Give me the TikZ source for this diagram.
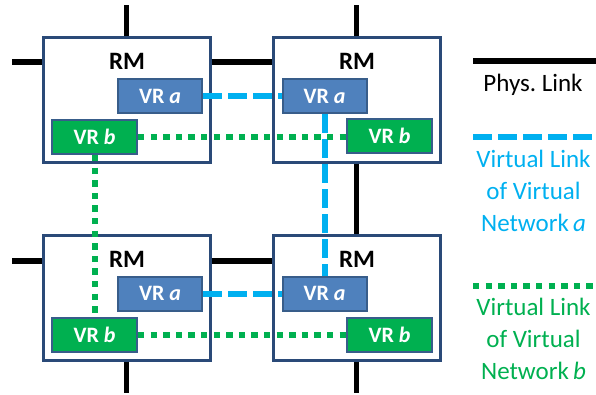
\documentclass[tikz,border=0pt]{standalone}
\usepackage{fontspec}
\setmainfont{Carlito}
\definecolor{rmborder}{HTML}{2A4A78}
\definecolor{vrafill}{HTML}{4F81BD}
\definecolor{vrborder}{HTML}{385D8A}
\definecolor{vrbfill}{HTML}{00B050}
\definecolor{vlinka}{HTML}{00B0F0}
\definecolor{vlinkb}{HTML}{00B050}
\begin{document}
\begin{tikzpicture}[x=1pt,y=-1pt,
  rmbox/.style={draw=rmborder, line width=3pt, fill=white, minimum width=167pt, minimum height=125pt, inner sep=0pt},
  rmlabel/.style={font=\bfseries\fontsize{25}{28}\selectfont, text=black, inner sep=0pt},
  vrabox/.style={draw=vrborder, line width=2pt, fill=vrafill, minimum width=84pt, minimum height=34pt, inner sep=0pt, text=white, font=\bfseries\fontsize{22}{24}\selectfont},
  vrbbox/.style={draw=vrborder, line width=2pt, fill=vrbfill, minimum width=85pt, minimum height=34pt, inner sep=0pt, text=white, font=\bfseries\fontsize{22}{24}\selectfont},
  phys/.style={draw=black, line width=5.5pt},
  vla/.style={draw=vlinka, line width=6pt, dash pattern=on 19pt off 6pt},
  vlb/.style={draw=vlinkb, line width=6pt, dash pattern=on 6.3pt off 6.3pt},
  legtext/.style={align=center, font=\fontsize{25}{32}\selectfont, inner sep=0pt}
]
\useasboundingbox (0,0) rectangle (596,394);
% RM boxes
\node[rmbox] (rmTL) at (126.5,99.5) {};
\node[rmbox] (rmTR) at (356.5,99.5) {};
\node[rmbox] (rmBL) at (126.5,297.5) {};
\node[rmbox] (rmBR) at (356.5,297.5) {};
% free ends of physical links
\coordinate (ytop) at (0,62);
\coordinate (ybot) at (0,261);
\coordinate (pTLup) at (126.5,5);
\coordinate (pTLleft) at (12,62);
\coordinate (pTRup) at (356.5,5);
\coordinate (pBLleft) at (12,261);
\coordinate (pBLdown) at (126.5,393);
\coordinate (pBRdown) at (356.5,393);
% physical links
\draw[phys] (rmTL.north) -- (pTLup);
\draw[phys] (rmTL.west |- ytop) -- (pTLleft);
\draw[phys] (rmTL.east |- ytop) -- (rmTR.west |- ytop);
\draw[phys] (rmTR.north) -- (pTRup);
\draw[phys] (rmTR.south) -- (rmBR.north);
\draw[phys] (rmBL.west |- ybot) -- (pBLleft);
\draw[phys] (rmBL.east |- ybot) -- (rmBR.west |- ybot);
\draw[phys] (rmBL.south) -- (pBLdown);
\draw[phys] (rmBR.south) -- (pBRdown);
% RM labels
\node[rmlabel] (lTL) at (127,61) {RM};
\node[rmlabel] (lTR) at (357,61) {RM};
\node[rmlabel] (lBL) at (127,259) {RM};
\node[rmlabel] (lBR) at (357,259) {RM};
% VR nodes
\node[vrabox] (vraTL) at (160,96) {VR \textit{a}};
\node[vrabox] (vraTR) at (324.5,96) {VR \textit{a}};
\node[vrabox] (vraBL) at (160,293.5) {VR \textit{a}};
\node[vrabox] (vraBR) at (324.5,293.5) {VR \textit{a}};
\node[vrbbox] (vrbTL) at (94.5,137) {VR \textit{b}};
\node[vrbbox] (vrbTR) at (389.5,136) {VR \textit{b}};
\node[vrbbox] (vrbBL) at (94.5,334.5) {VR \textit{b}};
\node[vrbbox] (vrbBR) at (389.5,334.5) {VR \textit{b}};
% virtual links
\draw[vla] (vraTL.east) -- (vraTR.west);
\draw[vla] (vraTR.south) -- (vraBR.north);
\draw[vla] (vraBL.east) -- (vraBR.west);
\draw[vlb] (vrbTL.east) -- (vrbTR.west |- vrbTL.east);
\draw[vlb] (vrbTL.south) -- (vrbBL.north);
\draw[vlb] (vrbBL.east) -- (vrbBR.west);
% legend
\coordinate (lg1a) at (473,61);
\coordinate (lg1b) at (596,61);
\coordinate (lg2a) at (473,137);
\coordinate (lg2b) at (593,137);
\coordinate (lg3a) at (473,286);
\coordinate (lg3b) at (593,286);
\draw[phys] (lg1a) -- (lg1b);
\draw[vla] (lg2a) -- (lg2b);
\draw[vlb] (lg3a) -- (lg3b);
\node[legtext, text=black] (tphys) at (533,85) {Phys.\ Link};
\node[legtext, text=vlinka] (tvla) at (533.5,191) {Virtual Link\\of Virtual\\Network\,\textit{a}};
\node[legtext, text=vlinkb] (tvlb) at (533.5,339) {Virtual Link\\of Virtual\\Network\,\textit{b}};
\end{tikzpicture}
\end{document}
